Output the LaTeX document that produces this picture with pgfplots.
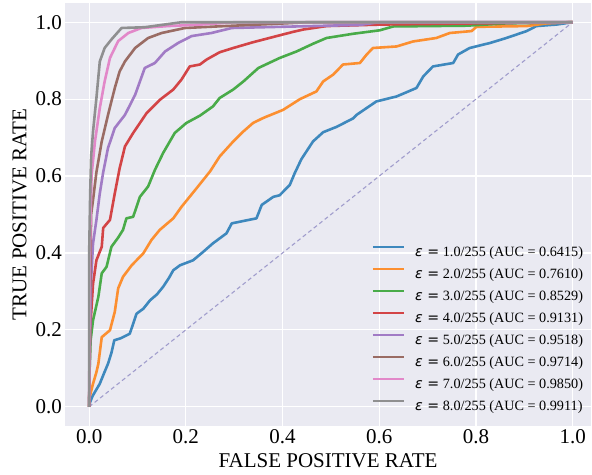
\documentclass[border=0pt]{standalone}
\usepackage{fontspec}
\setmainfont{Liberation Serif}
\newfontfamily\djv{DejaVu Sans}
\usepackage{pgfplots}
\pgfplotsset{compat=1.18}

\definecolor{bgc}{RGB}{234,234,242}
\definecolor{c1}{RGB}{62,136,189}
\definecolor{c2}{RGB}{252,143,48}
\definecolor{c3}{RGB}{73,171,73}
\definecolor{c4}{RGB}{211,68,70}
\definecolor{c5}{RGB}{161,123,197}
\definecolor{c6}{RGB}{154,108,100}
\definecolor{c7}{RGB}{226,136,201}
\definecolor{c8}{RGB}{143,143,144}
\definecolor{diag}{RGB}{160,156,204}

\newcommand{\eps}{{\djv\textit{ε} =}}

\begin{document}
\begin{tikzpicture}
\useasboundingbox (-65bp,-49bp) rectangle (527bp,426bp);
\begin{axis}[
  scale only axis, width=526bp, height=423bp,
  xmin=-0.05, xmax=1.038, ymin=-0.05, ymax=1.05,
  axis background/.style={fill=bgc},
  axis line style={draw=none},
  grid=major, major grid style={white, line width=1.2bp},
  tick style={draw=none}, major tick length=0pt,
  xtick={0,0.2,0.4,0.6,0.8,1}, ytick={0,0.2,0.4,0.6,0.8,1},
  xticklabels={0.0,0.2,0.4,0.6,0.8,1.0},
  yticklabels={0.0,0.2,0.4,0.6,0.8,1.0},
  ticklabel style={font=\fontsize{21bp}{21bp}\selectfont},
  xticklabel style={inner sep=0pt, yshift=-3bp},
  yticklabel style={inner sep=0pt, xshift=-3bp},
  label style={font=\fontsize{21bp}{21bp}\selectfont},
  xlabel={FALSE POSITIVE RATE},
  ylabel={TRUE POSITIVE RATE},
  xlabel style={at={(axis description cs:0.5,0)}, anchor=center, yshift=-35bp, inner sep=0pt},
  ylabel style={at={(axis description cs:0,0.5)}, anchor=center, yshift=45.5bp, inner sep=0pt},
  legend cell align=left,
  legend style={draw=none, fill=none, inner sep=0pt, outer sep=0pt,
    at={(rel axis cs:0.9848,0.0288)}, anchor=south east,
    row sep=8bp, column sep=10bp,
    nodes={inner sep=0pt, text height=10bp, text depth=3.5bp},
    font=\fontsize{14.2bp}{17bp}\selectfont},
  legend image code/.code={\draw[#1, line width=2.5bp] (0bp,6bp) -- (31bp,6bp);},
  every axis plot/.append style={line width=2.6bp, line join=round},
]
\addplot[diag, line width=1.1bp, dash pattern=on 4bp off 3bp, forget plot] coordinates {(0,0) (1,1)};

% epsilon = 1/255
\addplot[c1] coordinates {
(0,0) (0.002,0.012) (0.007,0.028) (0.015,0.045) (0.022,0.06) (0.03,0.085)
(0.039,0.112) (0.046,0.14) (0.052,0.173) (0.065,0.178) (0.084,0.19)
(0.098,0.242) (0.112,0.255) (0.126,0.277) (0.14,0.292) (0.153,0.312)
(0.165,0.335) (0.174,0.355) (0.188,0.368) (0.215,0.381) (0.236,0.403)
(0.256,0.425) (0.284,0.451) (0.295,0.477) (0.346,0.49) (0.357,0.525)
(0.381,0.546) (0.394,0.55) (0.415,0.577) (0.425,0.607) (0.439,0.644)
(0.463,0.69) (0.484,0.714) (0.512,0.728) (0.546,0.75) (0.553,0.759)
(0.594,0.794) (0.636,0.807) (0.677,0.829) (0.691,0.859) (0.711,0.885)
(0.753,0.894) (0.763,0.916) (0.787,0.933) (0.829,0.946) (0.863,0.959)
(0.905,0.977) (0.925,0.99) (0.967,0.994) (1,1)};
\addlegendentry{\eps\ 1.0/255 (AUC = 0.6415)}

% epsilon = 2/255
\addplot[c2] coordinates {
(0,0) (0.001,0.025) (0.008,0.06) (0.015,0.09) (0.019,0.112) (0.026,0.181)
(0.043,0.199) (0.053,0.247) (0.06,0.308) (0.07,0.338) (0.088,0.368)
(0.112,0.399) (0.129,0.434) (0.146,0.46) (0.174,0.49) (0.191,0.52)
(0.222,0.568) (0.25,0.612) (0.27,0.651) (0.298,0.69) (0.319,0.716)
(0.339,0.738) (0.36,0.751) (0.401,0.772) (0.436,0.8) (0.47,0.82)
(0.484,0.846) (0.505,0.864) (0.525,0.89) (0.56,0.894) (0.574,0.916)
(0.587,0.933) (0.636,0.937) (0.67,0.95) (0.718,0.959) (0.746,0.972)
(0.791,0.977) (0.801,0.988) (0.905,0.99) (0.946,0.997) (1,1)};
\addlegendentry{\eps\ 2.0/255 (AUC = 0.7610)}

% epsilon = 3/255
\addplot[c3] coordinates {
(0,0) (0.001,0.1) (0.003,0.173) (0.008,0.225) (0.019,0.286) (0.026,0.347)
(0.036,0.364) (0.046,0.416) (0.06,0.44) (0.07,0.46) (0.077,0.49)
(0.091,0.494) (0.105,0.546) (0.122,0.573) (0.136,0.616) (0.153,0.66)
(0.177,0.712) (0.201,0.738) (0.229,0.757) (0.256,0.781) (0.27,0.803)
(0.298,0.825) (0.319,0.846) (0.35,0.881) (0.394,0.907) (0.429,0.924)
(0.463,0.944) (0.491,0.959) (0.546,0.97) (0.601,0.979) (0.629,0.989)
(0.781,0.991) (0.863,0.997) (1,1)};
\addlegendentry{\eps\ 3.0/255 (AUC = 0.8529)}

% epsilon = 4/255
\addplot[c4] coordinates {
(0,0) (0.001,0.12) (0.002,0.2) (0.005,0.26) (0.008,0.32) (0.015,0.381)
(0.026,0.416) (0.029,0.465) (0.043,0.486) (0.053,0.555) (0.063,0.62)
(0.074,0.677) (0.091,0.712) (0.119,0.764) (0.146,0.798) (0.174,0.825)
(0.191,0.851) (0.208,0.885) (0.229,0.89) (0.243,0.903) (0.27,0.922)
(0.298,0.933) (0.339,0.948) (0.388,0.964) (0.422,0.975) (0.443,0.981)
(0.491,0.99) (0.608,0.994) (1,1)};
\addlegendentry{\eps\ 4.0/255 (AUC = 0.9131)}

% epsilon = 5/255
\addplot[c5] coordinates {
(0,0) (0.002,0.2) (0.004,0.33) (0.008,0.425) (0.015,0.486) (0.022,0.555)
(0.029,0.61) (0.039,0.673) (0.053,0.725) (0.074,0.759) (0.095,0.811)
(0.115,0.881) (0.136,0.894) (0.157,0.924) (0.184,0.946) (0.212,0.964)
(0.253,0.972) (0.295,0.985) (0.56,0.993) (0.6,1) (1,1)};
\addlegendentry{\eps\ 5.0/255 (AUC = 0.9518)}

% epsilon = 6/255
\addplot[c6] coordinates {
(0,0) (0.002,0.3) (0.004,0.5) (0.008,0.538) (0.015,0.61) (0.026,0.69)
(0.039,0.759) (0.053,0.829) (0.063,0.872) (0.074,0.898) (0.095,0.933)
(0.122,0.959) (0.15,0.972) (0.198,0.985) (0.281,0.99) (0.405,0.997)
(0.45,1) (1,1)};
\addlegendentry{\eps\ 6.0/255 (AUC = 0.9714)}

% epsilon = 7/255
\addplot[c7] coordinates {
(0,0) (0.001,0.35) (0.003,0.5) (0.005,0.603) (0.012,0.69) (0.022,0.777)
(0.032,0.846) (0.043,0.907) (0.06,0.951) (0.081,0.972) (0.108,0.985)
(0.163,0.99) (0.232,0.994) (0.3,1) (1,1)};
\addlegendentry{\eps\ 7.0/255 (AUC = 0.9850)}

% epsilon = 8/255
\addplot[c8] coordinates {
(0,0) (0,0.4) (0.002,0.55) (0.004,0.65) (0.008,0.716) (0.015,0.803)
(0.022,0.898) (0.032,0.933) (0.046,0.955) (0.067,0.985) (0.115,0.987)
(0.191,1) (1,1)};
\addlegendentry{\eps\ 8.0/255 (AUC = 0.9911)}
\end{axis}
\end{tikzpicture}
\end{document}
